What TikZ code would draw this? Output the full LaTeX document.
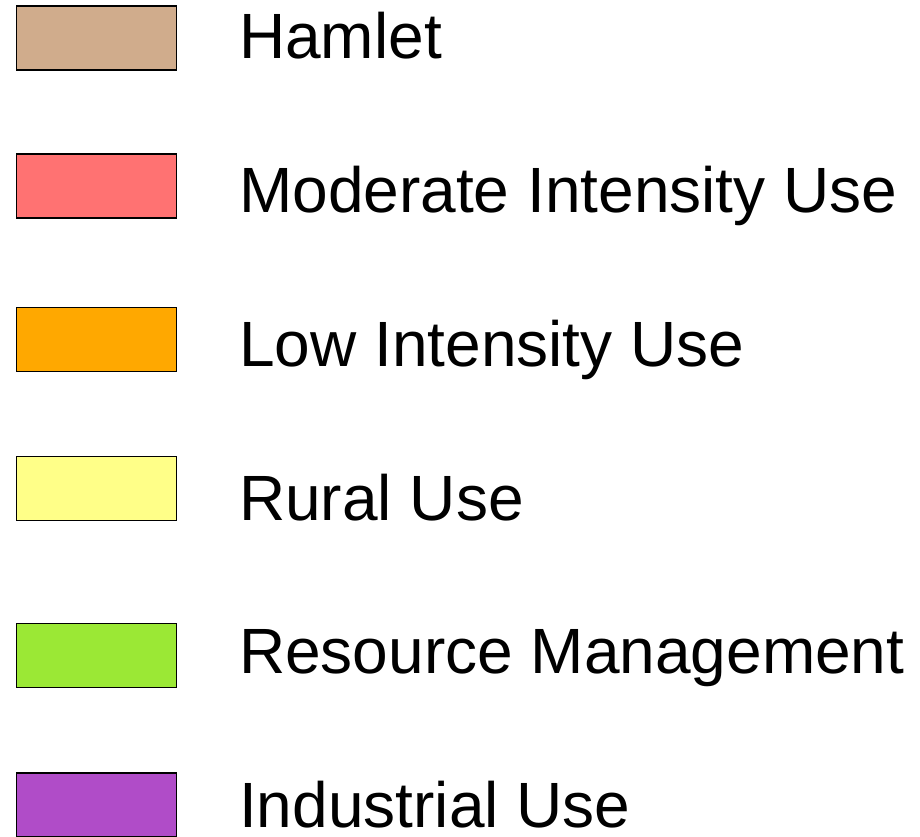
\documentclass[tikz,border=0pt]{standalone}
\usepackage{fontspec}
\setmainfont{Liberation Sans}
\usepackage{tikz}
\usepackage{xcolor}

\definecolor{hamletcol}{HTML}{D0AC8C}
\definecolor{moderatecol}{HTML}{FF7272}
\definecolor{lowcol}{HTML}{FFA800}
\definecolor{ruralcol}{HTML}{FFFF88}
\definecolor{resourcecol}{HTML}{9BE835}
\definecolor{industrialcol}{HTML}{B04CC8}

\tikzset{
  legbox/.style={draw=black, line width=1.3pt, minimum width=160pt, minimum height=64pt, inner sep=0pt},
  legtext/.style={anchor=base west, inner sep=0pt, font=\fontsize{64}{70}\selectfont}
}

\begin{document}
\begin{tikzpicture} [x=1pt, y=-1pt]
				\useasboundingbox (0, 0) rectangle (920, 836);
				\node [legbox, fill=hamletcol] (hamletbox) at (96.5, 38) {};
				\node [legtext] (hamlet) at (239, 58) {Hamlet};
				\node [legbox, fill=moderatecol] (moderatebox) at (96.5, 186) {};
				\node [legtext] (moderate) at (239, 212) {Moderate Intensity Use};
				\node [legbox, fill=lowcol] (lowbox) at (96.5, 339.5) {};
				\node [legtext] (low) at (239, 366) {Low Intensity Use};
				\node [legbox, fill=ruralcol] (ruralbox) at (96.5, 488.5) {};
				\node [legtext] (rural) at (239, 520) {Rural Use};
				\node [legbox, fill=resourcecol] (resourcebox) at (96.5, 655.5) {};
				\node [legtext] (resource) at (239, 673) {Resource Management};
				\node [legbox, fill=industrialcol] (industrialbox) at (96.5, 805) {};
				\node [legtext] (industrial) at (239, 827) {Industrial Use};

			\end{tikzpicture}
\end{document}
